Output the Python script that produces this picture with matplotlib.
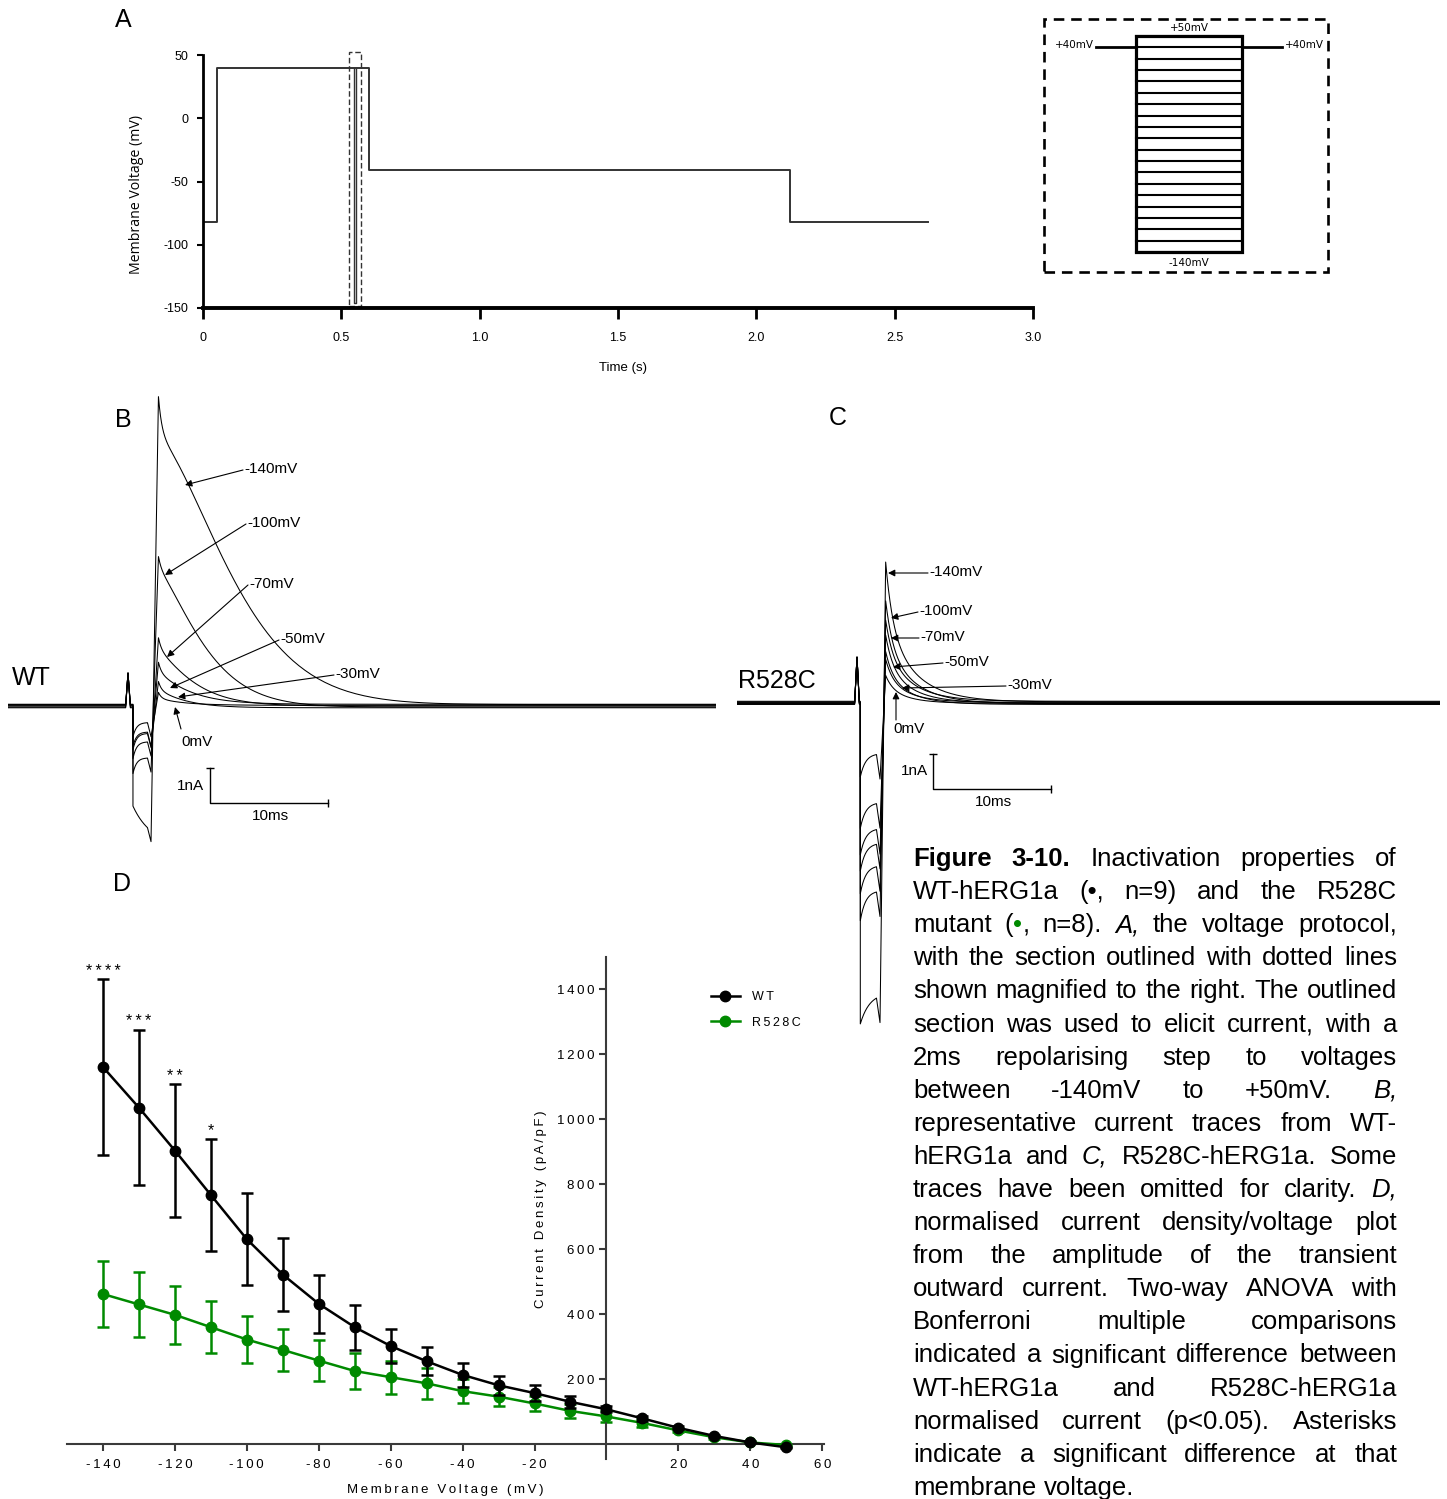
import numpy as np
import matplotlib
matplotlib.use("Agg")
import matplotlib.pyplot as plt
from matplotlib import font_manager
from matplotlib.patches import Rectangle

# ---------------------------------------------------------------------------
# Data
# ---------------------------------------------------------------------------

# Panel A: voltage protocol (s, mV)
protocol_t = [0.0, 0.05, 0.05, 0.60, 0.60, 2.12, 2.12, 2.62]
protocol_v = [-82, -82, 40, 40, -41, -41, -82, -82]
pulse_t = [0.547, 0.553]          # the 2 ms test step (outlined)
pulse_v = -146
outline_t = [0.529, 0.571]
outline_v = [-148.6, 52.4]

# Inset: test step levels (mV)
step_levels = [50, 40, 30, 20, 10, 0, -10, -20, -30, -40,
               -50, -60, -70, -80, -90, -100, -110, -120, -130, -140]
hold_level = 40

# Panel B: WT current traces (nA / ms), largest step first
b_labels = ["-140mV", "-100mV", "-70mV", "-50mV", "-30mV", "0mV"]
b_fast_amp = [1.2, 0.4, 0.35, 0.3, 0.25, 0.17]
b_fast_tau = [0.3, 0.25, 0.25, 0.25, 0.25, 0.25]
b_slow_amp = [7.6, 3.9, 1.6, 0.9, 0.5, 0.2]
b_slow_tau = [7.7, 4.6, 3.4, 2.9, 2.5, 2.2]
b_slow_beta = [1.5, 1.35, 1.2, 1.1, 1.1, 1.0]
b_step_i0 = [-2.9, -1.9, -1.5, -1.3, -1.1, -0.9]
b_step_i1 = [-4.0, -1.45, -1.02, -0.83, -0.69, -0.49]
b_step_tau = [1.5, 0.3, 0.3, 0.3, 0.3, 0.3]
b_offset = [0.04, -0.03, 0.0, 0.05, -0.05, 0.02]

# Panel C: R528C current traces (nA / ms)
c_fast_amp = [1.8, 1.3, 1.0, 0.85, 0.65, 0.55, 0.35]
c_fast_tau = [0.6, 0.6, 0.6, 0.6, 0.6, 0.6, 0.6]
c_slow_amp = [2.2, 1.64, 1.32, 1.09, 0.86, 0.68, 0.45]
c_slow_tau = [2.5, 2.4, 2.3, 2.2, 2.1, 2.0, 1.9]
c_slow_beta = [1.0, 1.0, 1.0, 1.0, 1.0, 1.0, 1.0]
c_step_i0 = [-9.2, -6.2, -5.5, -4.8, -4.3, -3.6, -2.1]
c_step_i1 = [-8.3, -5.34, -4.69, -4.0, -3.54, -2.86, -1.43]
c_step_tau = [0.8, 0.45, 0.45, 0.45, 0.45, 0.45, 0.45]
c_offset = [0.03, -0.02, 0.05, 0.0, -0.04, 0.02, -0.01]

# Panel D: current density / voltage
volts = [-140, -130, -120, -110, -100, -90, -80, -70, -60, -50,
         -40, -30, -20, -10, 0, 10, 20, 30, 40, 50]
wt_mean = [1161, 1036, 904, 767, 631, 522, 432, 360, 302, 255,
           213, 181, 157, 130, 107, 79, 50, 25, 5, -10]
wt_sem = [270, 239, 204, 173, 141, 112, 89, 69, 53, 43,
          37, 29, 24, 19, 9, 7, 5, 4, 3, 2]
r_mean = [462, 430, 398, 360, 322, 290, 257, 225, 206, 187,
          163, 146, 125, 102, 85, 65, 42, 21, 5, -3]
r_sem = [102, 100, 90, 80, 71, 64, 62, 56, 51, 47,
         38, 30, 24, 21, 17, 12, 6, 4, 3, 2]
sig_volts = [-140, -130, -120, -110]
sig_marks = ["****", "***", "**", "*"]

caption_lines = [
    "b:Figure b:3-10. Inactivation properties of",
    "WT-hERG1a (•, n=9) and the R528C",
    "mutant (|g:•|, n=8). i:A, the voltage protocol,",
    "with the section outlined with dotted lines",
    "shown magnified to the right. The outlined",
    "section was used to elicit current, with a",
    "2ms repolarising step to voltages",
    "between -140mV to +50mV. i:B,",
    "representative current traces from WT-",
    "hERG1a and i:C, R528C-hERG1a. Some",
    "traces have been omitted for clarity. i:D,",
    "normalised current density/voltage plot",
    "from the amplitude of the transient",
    "outward current. Two-way ANOVA with",
    "Bonferroni multiple comparisons",
    "indicated a significant difference between",
    "WT-hERG1a and R528C-hERG1a",
    "normalised current (p<0.05). Asterisks",
    "indicate a significant difference at that",
    "membrane voltage.",
]

# ---------------------------------------------------------------------------
# Layout helpers (reference pixel coordinates, origin top-left)
# ---------------------------------------------------------------------------

W, H = 1447, 1499
GREEN = "#008a00"
SANS = ["Liberation Sans", "DejaVu Sans"]
names = {f.name for f in font_manager.fontManager.ttflist}
NARROW = ["Liberation Sans Narrow" if "Liberation Sans Narrow" in names
          else "Liberation Sans", "DejaVu Sans"]
plt.rcParams["font.family"] = SANS


def fx(x):
    return x / W


def fy(y):
    return 1 - y / H


def box(x0, y0, x1, y1):
    return [x0 / W, 1 - y1 / H, (x1 - x0) / W, (y1 - y0) / H]


def spaced(s):
    return "\u2009".join(s)


def build_trace(times, i0, i1, step_tau, dip, a_f, tau_f, a_s, tau_s,
                beta, off, spike_h, t_end):
    t_spike, t_on, t_off, t_peak = times
    t_pre = [0.0, t_spike - 0.2, t_spike, t_spike + 0.2, t_on]
    i_pre = [off, off, spike_h, off, off]
    ts = np.linspace(t_on, t_off - 0.3, 40)
    i_step = i1 + (i0 - i1) * np.exp(-(ts - t_on) / step_tau) + off
    dt = np.concatenate([[0.0], np.geomspace(0.01, t_end - t_peak, 400)])
    i_dec = (a_f * np.exp(-dt / tau_f)
             + a_s * np.exp(-(dt / tau_s) ** beta) + off)
    t = np.concatenate([t_pre, ts, [t_off], t_peak + dt])
    i = np.concatenate([i_pre, i_step, [i_step[-1] - dip], i_dec])
    return t, i


fig = plt.figure(figsize=(W / 100, H / 100), dpi=100)

# ---------------------------------------------------------------------------
# Panel A: protocol
# ---------------------------------------------------------------------------
axA = fig.add_axes(box(203, 55, 1033, 308))
axA.plot(protocol_t, protocol_v, color="#333333", lw=1.4)
axA.plot([pulse_t[0], pulse_t[0], pulse_t[1], pulse_t[1]],
         [hold_level, pulse_v, pulse_v, hold_level], color="#333333", lw=1.0)
axA.add_patch(Rectangle((outline_t[0], outline_v[0]),
                        outline_t[1] - outline_t[0],
                        outline_v[1] - outline_v[0],
                        fill=False, ls=(0, (4, 2)), lw=1.0, ec="#333333",
                        clip_on=False))
axA.set_xlim(0, 3.0)
axA.set_ylim(-150, 50)
for s in ["top", "right"]:
    axA.spines[s].set_visible(False)
axA.spines["left"].set_linewidth(2)
axA.spines["bottom"].set_linewidth(2.8)
axA.set_xticks([0, 0.5, 1.0, 1.5, 2.0, 2.5, 3.0])
axA.set_xticklabels(["0", "0.5", "1.0", "1.5", "2.0", "2.5", "3.0"],
                    family=NARROW, fontsize=9)
axA.set_yticks([50, 0, -50, -100, -150])
axA.set_yticklabels(["50", "0", "-50", "-100", "-150"],
                    family=NARROW, fontsize=9)
axA.tick_params(axis="x", length=8, width=2, pad=9)
axA.tick_params(axis="y", length=4.5, width=1.5, pad=6)
fig.text(fx(137), fy(194), "Membrane Voltage (mV)", rotation=90,
         ha="center", va="center", fontsize=10.2,
         family=["Open Sans", "DejaVu Sans"])
fig.text(fx(623), fy(368), "Time (s)", ha="center", va="center",
         fontsize=9.5, family=NARROW)

# Inset: magnified test step
axI = fig.add_axes(box(1044, 19, 1328, 272))
axI.set_xlim(0, 5.36)
axI.set_ylim(-157.6, 64.95)
axI.axis("off")
axI.add_patch(Rectangle((0, 0), 1, 1, transform=axI.transAxes, fill=False,
                        lw=1.9, ls=(0, (4, 2.6)), clip_on=False))
step_on, step_off = 1.736, 3.736
for lv in step_levels:
    axI.plot([step_on, step_off], [lv, lv], color="k", lw=1.5)
axI.add_patch(Rectangle((step_on, step_levels[-1]), step_off - step_on,
                        step_levels[0] - step_levels[-1], fill=False,
                        lw=2.3, ec="k"))
axI.plot([0.98, step_on], [hold_level, hold_level], color="k", lw=2.0)
axI.plot([step_off, 4.49], [hold_level, hold_level], color="k", lw=2.0)
ifont = dict(fontsize=7.5, family=["DejaVu Sans"])
axI.text((step_on + step_off) / 2, 57, "+50mV", ha="center", va="center", **ifont)
axI.text(0.94, 42, "+40mV", ha="right", va="center", **ifont)
axI.text(4.55, 42, "+40mV", ha="left", va="center", **ifont)
axI.text((step_on + step_off) / 2, -150, "-140mV", ha="center", va="center", **ifont)

# ---------------------------------------------------------------------------
# Panels B and C: current traces
# ---------------------------------------------------------------------------
axB = fig.add_axes(box(8, 390, 716, 860))
axB.set_xlim(0, 60)
axB.set_ylim(-4.4, 9.03)
axB.axis("off")
for k in range(len(b_labels)):
    t, i = build_trace((10.17, 10.59, 12.12, 12.75), b_step_i0[k], b_step_i1[k],
                       b_step_tau[k], 0.4, b_fast_amp[k], b_fast_tau[k],
                       b_slow_amp[k], b_slow_tau[k], b_slow_beta[k],
                       b_offset[k], 0.94, 60)
    axB.plot(t, i, color="k", lw=0.75)
# scale bar: 1 nA / 10 ms
axB.plot([17.12, 17.12, 27.12], [-1.77, -2.77, -2.77], color="k", lw=1.0)
axB.plot([17.12], [-1.77], marker="_", color="k", ms=6, mew=1.0)
axB.plot([27.12], [-2.77], marker="|", color="k", ms=6, mew=1.0)

axC = fig.add_axes(box(737, 540, 1440, 1040))
axC.set_xlim(0, 59.58)
axC.set_ylim(-9.63, 4.66)
axC.axis("off")
for k in range(len(c_fast_amp)):
    t, i = build_trace((10.17, 10.45, 12.12, 12.6), c_step_i0[k], c_step_i1[k],
                       c_step_tau[k], 0.7, c_fast_amp[k], c_fast_tau[k],
                       c_slow_amp[k], c_slow_tau[k], c_slow_beta[k],
                       c_offset[k], 1.31, 59.58)
    axC.plot(t, i, color="k", lw=0.75)
axC.plot([16.6, 16.6, 26.6], [-1.46, -2.46, -2.46], color="k", lw=1.0)
axC.plot([16.6], [-1.46], marker="_", color="k", ms=6, mew=1.0)
axC.plot([26.6], [-2.46], marker="|", color="k", ms=6, mew=1.0)

arrow = dict(arrowstyle="-|>", color="k", lw=0.8, mutation_scale=10,
             shrinkA=0, shrinkB=0)
tfont = dict(fontsize=11, family=NARROW)
b_arrows = [((243, 470), (185, 485)), ((246, 524), (165, 575)),
            ((248, 585), (167, 657)), ((279, 640), (170, 688)),
            ((334, 675), (178, 697))]
for lab, (p0, p1) in zip(b_labels[:5], b_arrows):
    fig.text(fx(p0[0] + 1), fy(p0[1] - 1), lab, ha="left", va="center", **tfont)
    axB.annotate("", xy=(fx(p1[0]), fy(p1[1])), xytext=(fx(p0[0]), fy(p0[1])),
                 xycoords="figure fraction", textcoords="figure fraction",
                 arrowprops=arrow)
fig.text(fx(197), fy(742), b_labels[5], ha="center", va="center", **tfont)
axB.annotate("", xy=(fx(175), fy(707)), xytext=(fx(181), fy(729)),
             xycoords="figure fraction", textcoords="figure fraction",
             arrowprops=arrow)

c_labels = ["-140mV", "-100mV", "-70mV", "-50mV", "-30mV"]
c_arrows = [((928, 573), (888, 573)), ((918, 612), (891, 618)),
            ((919, 638), (891, 638)), ((943, 663), (893, 667)),
            ((1006, 686), (902, 688))]
for lab, (p0, p1) in zip(c_labels, c_arrows):
    fig.text(fx(p0[0] + 1), fy(p0[1] - 1), lab, ha="left", va="center", **tfont)
    axC.annotate("", xy=(fx(p1[0]), fy(p1[1])), xytext=(fx(p0[0]), fy(p0[1])),
                 xycoords="figure fraction", textcoords="figure fraction",
                 arrowprops=arrow)
fig.text(fx(909), fy(729), "0mV", ha="center", va="center", **tfont)
axC.annotate("", xy=(fx(896), fy(692)), xytext=(fx(896), fy(720)),
             xycoords="figure fraction", textcoords="figure fraction",
             arrowprops=arrow)

fig.text(fx(204), fy(786), "1nA", ha="right", va="center", **tfont)
fig.text(fx(270), fy(816), "10ms", ha="center", va="center", **tfont)
fig.text(fx(928), fy(771), "1nA", ha="right", va="center", **tfont)
fig.text(fx(993), fy(802), "10ms", ha="center", va="center", **tfont)

fig.text(fx(12), fy(678), "WT", ha="left", va="center", fontsize=18, family=NARROW)
fig.text(fx(738), fy(681), "R528C", ha="left", va="center", fontsize=18, family=NARROW)

# Panel letters
for lab, (x, y) in zip("ABCD", [(123, 20), (123, 420), (838, 418), (122, 884)]):
    fig.text(fx(x), fy(y), lab, ha="center", va="center", fontsize=18)

# ---------------------------------------------------------------------------
# Panel D: current density / voltage
# ---------------------------------------------------------------------------
axD = fig.add_axes(box(67, 957, 824, 1459))
axD.set_xlim(-150, 60.5)
axD.set_ylim(-46, 1500)
axD.errorbar(volts, r_mean, yerr=r_sem, fmt="none", ecolor=GREEN,
             elinewidth=1.8, capsize=4, capthick=1.8, zorder=2)
l_r, = axD.plot(volts, r_mean, "-o", color=GREEN, lw=1.8, ms=7.5, zorder=3)
axD.errorbar(volts, wt_mean, yerr=wt_sem, fmt="none", ecolor="k",
             elinewidth=1.8, capsize=4, capthick=1.8, zorder=4)
l_wt, = axD.plot(volts, wt_mean, "-o", color="k", lw=1.8, ms=7.5, zorder=5)
for v, s in zip(sig_volts, sig_marks):
    k = volts.index(v)
    axD.text(v, wt_mean[k] + wt_sem[k] + 2, spaced(s), ha="center",
             va="bottom", fontsize=11.5)

for s in ["top", "right"]:
    axD.spines[s].set_visible(False)
for s in ["left", "bottom"]:
    axD.spines[s].set_position(("data", 0))
    axD.spines[s].set_color("#3a3a3a")
    axD.spines[s].set_linewidth(1.5)
xt = [-140, -120, -100, -80, -60, -40, -20, 20, 40, 60]
axD.set_xticks(xt)
axD.set_xticklabels([spaced(str(v)) for v in xt], fontsize=9.5)
yt = [200, 400, 600, 800, 1000, 1200, 1400]
axD.set_yticks(yt)
axD.set_yticklabels([spaced(str(v)) for v in yt], fontsize=9.5)
axD.tick_params(direction="out", length=5, width=1.5, color="#3a3a3a")
axD.tick_params(axis="x", pad=6)
axD.tick_params(axis="y", pad=3.5)
fig.text(fx(541), fy(1209), spaced("Current Density (pA/pF)"), rotation=90,
         ha="center", va="center", fontsize=9.5)
fig.text(fx(445), fy(1490), spaced("Membrane Voltage (mV)"),
         ha="center", va="center", fontsize=9.5)
axD.legend([l_wt, l_r], [spaced("WT"), spaced("R528C")], loc="upper left",
           bbox_to_anchor=(fx(711), fy(991)), bbox_transform=fig.transFigure,
           frameon=False, handlelength=2.3, handletextpad=1.0,
           labelspacing=1.1, borderpad=0, borderaxespad=0, fontsize=9)

# ---------------------------------------------------------------------------
# Caption: justified paragraph
# ---------------------------------------------------------------------------
renderer = fig.canvas.get_renderer()
X0, X1 = 913, 1397


def parse_word(word):
    segs = []
    for seg in word.split("|"):
        if seg[:2] in ("b:", "i:", "g:"):
            segs.append((seg[2:], seg[0]))
        else:
            segs.append((seg, ""))
    return segs


def seg_props(style, size):
    p = dict(fontsize=size, family=SANS, color="k")
    if style == "b":
        p["fontweight"] = "bold"
    elif style == "i":
        p["fontstyle"] = "italic"
    elif style == "g":
        p["color"] = GREEN
    return p


def layout_line(line, size):
    words = []
    for word in line.split(" "):
        parts = []
        for text, style in parse_word(word):
            t = fig.text(0, 0, text, va="baseline", ha="left", **seg_props(style, size))
            parts.append((t, t.get_window_extent(renderer).width))
        words.append(parts)
    return words


def measure(size):
    sp = fig.text(0, 0, "a a", fontsize=size)
    nsp = fig.text(0, 0, "aa", fontsize=size)
    space = sp.get_window_extent(renderer).width - nsp.get_window_extent(renderer).width
    sp.remove()
    nsp.remove()
    widest = 0
    for line in caption_lines[:-1]:
        words = layout_line(line, size)
        w = sum(pw for parts in words for _, pw in parts) + space * (len(words) - 1)
        widest = max(widest, w)
        for parts in words:
            for t, _ in parts:
                t.remove()
    return widest


size = 14 * (X1 - X0 - 2) / measure(14)
for n, line in enumerate(caption_lines):
    words = layout_line(line, size)
    widths = [sum(pw for _, pw in parts) for parts in words]
    if n < len(caption_lines) - 1 and len(words) > 1:
        gap = (X1 - X0 - sum(widths)) / (len(words) - 1)
    else:
        gap = 0.28 * size * 100 / 72
    x = X0
    y = 866 + n * 33.1
    for parts, w in zip(words, widths):
        xx = x
        for t, pw in parts:
            t.set_position((fx(xx), fy(y)))
            xx += pw
        x += w + gap

fig.savefig("out.png", dpi=100)
